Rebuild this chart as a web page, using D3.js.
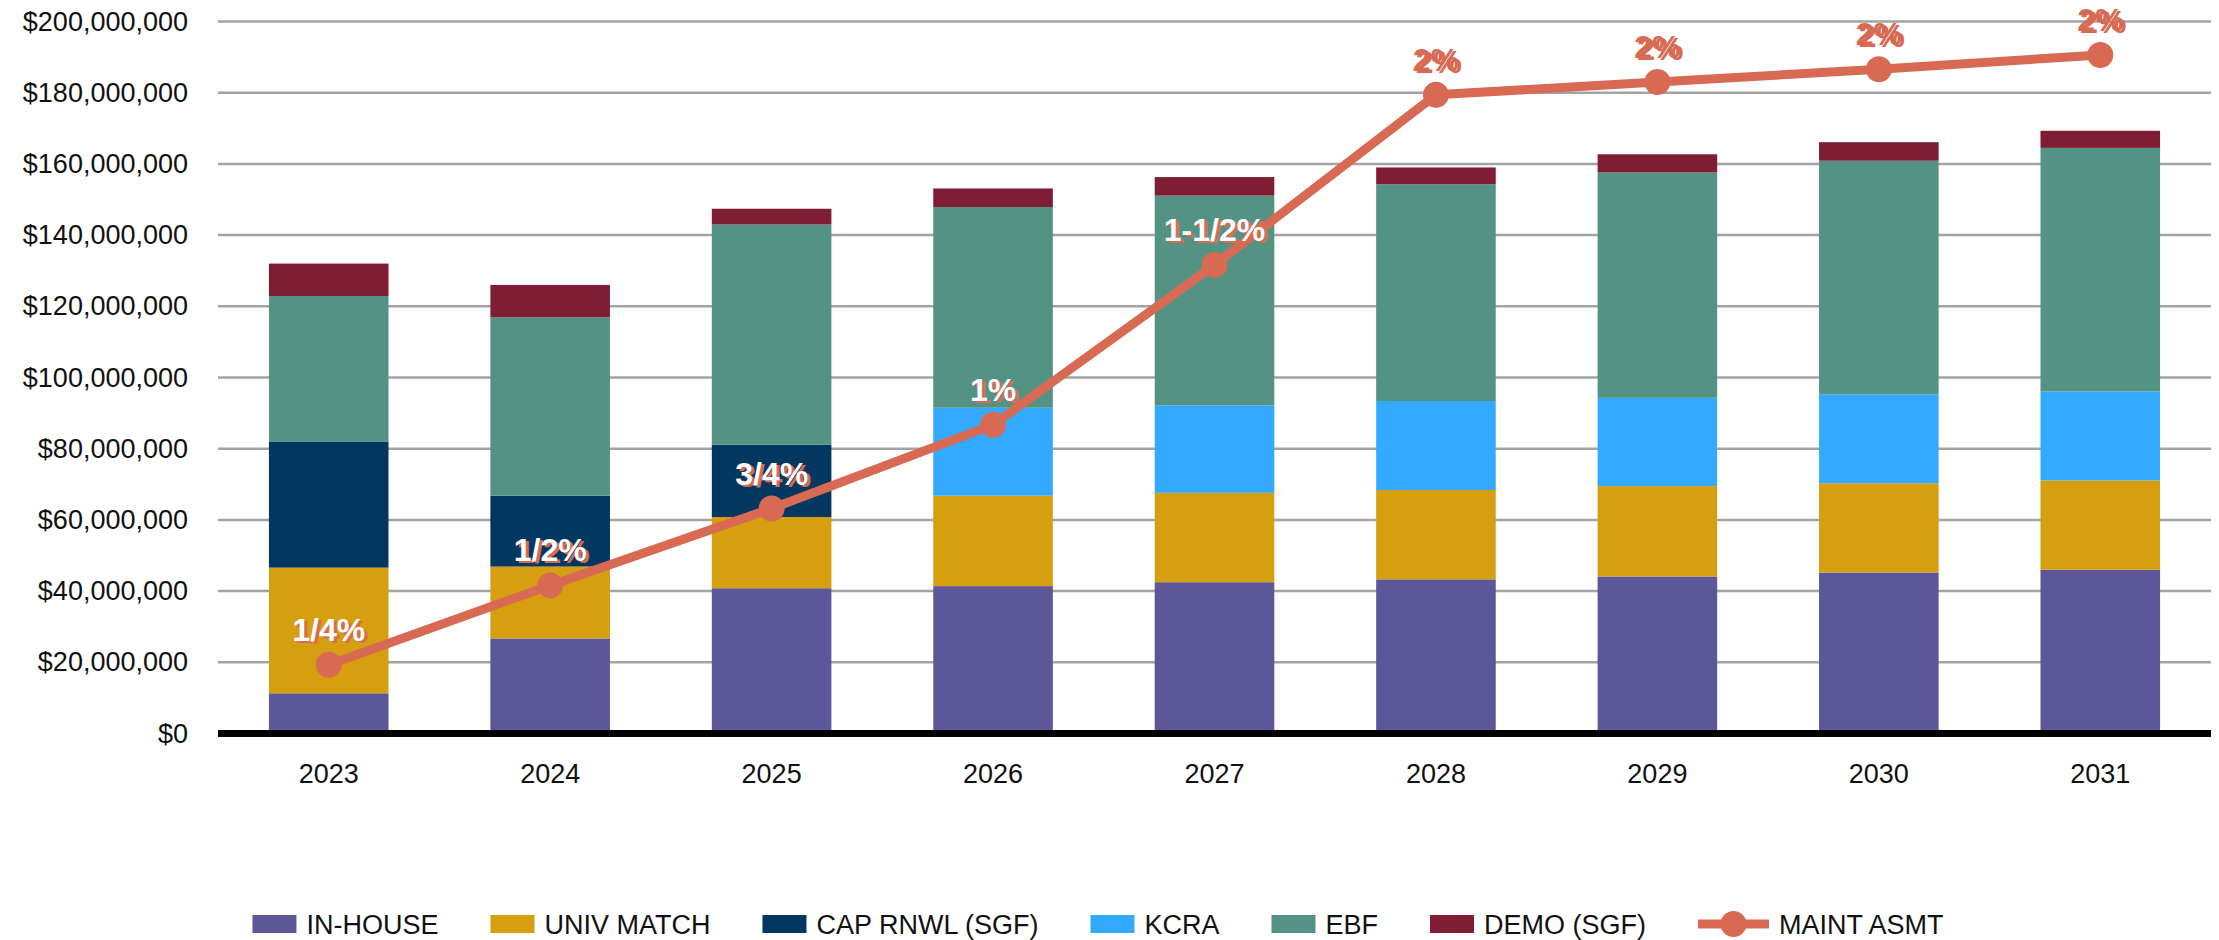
<!DOCTYPE html>
<html>
<head>
<meta charset="utf-8">
<script src="https://cdn.jsdelivr.net/npm/d3@7"></script>
<style>
  body { margin: 0; background: #fff; }
  svg { display: block; font-family: "Liberation Sans", Arial, sans-serif; }
</style>
</head>
<body>
<svg id="chart" width="2219" height="940" viewBox="0 0 2219 940"></svg>
<script>
// chart values (dollars in millions)
const years = ["2023", "2024", "2025", "2026", "2027", "2028", "2029", "2030", "2031"];
const seriesNames = ["IN-HOUSE", "UNIV MATCH", "CAP RNWL (SGF)", "KCRA", "EBF", "DEMO (SGF)"];
const inHouse = [11.3, 26.7, 40.8, 41.4, 42.5, 43.3, 44.1, 45.2, 46.0];
const univMatch = [35.3, 20.2, 20.0, 25.4, 25.1, 25.1, 25.4, 25.1, 25.1];
const capRenewal = [35.3, 19.9, 20.3, 0, 0, 0, 0, 0, 0];
const kcra = [0, 0, 0, 24.7, 24.6, 25.0, 24.8, 25.0, 25.0];
const ebf = [41.0, 50.1, 61.9, 56.4, 58.9, 60.9, 63.3, 65.6, 68.4];
const demo = [9.1, 9.1, 4.4, 5.2, 5.2, 4.7, 5.1, 5.2, 4.8];
const maintAsmt = [19.3, 41.6, 63.2, 86.7, 131.6, 179.4, 183.0, 186.6, 190.6];
const rateLabels = ["1/4%", "1/2%", "3/4%", "1%", "1-1/2%", "2%", "2%", "2%", "2%"];
const yTicks = [0, 20, 40, 60, 80, 100, 120, 140, 160, 180, 200];

const colors = ["#5b5799", "#d59f10", "#03375f", "#33aaff", "#549384", "#7f1d35"];
const lineColor = "#d86a54";

const svg = d3.select("#chart");
const plotLeft = 218, plotRight = 2211, plotTop = 21.5, plotBottom = 733.5;

const rows = years.map((year, i) => ({
  year: year,
  "IN-HOUSE": inHouse[i],
  "UNIV MATCH": univMatch[i],
  "CAP RNWL (SGF)": capRenewal[i],
  "KCRA": kcra[i],
  "EBF": ebf[i],
  "DEMO (SGF)": demo[i],
  asmt: maintAsmt[i],
  label: rateLabels[i]
}));

const x = d3.scaleBand().domain(years).range([plotLeft, plotRight]).paddingInner(0.46).paddingOuter(0.23);
const y = d3.scaleLinear().domain([0, 200]).range([plotBottom, plotTop]);
const color = d3.scaleOrdinal().domain(seriesNames).range(colors);

// gridlines
svg.append("g")
  .selectAll("line")
  .data(yTicks.filter(t => t > 0))
  .enter()
  .append("line")
  .attr("x1", plotLeft)
  .attr("x2", plotRight)
  .attr("y1", d => y(d))
  .attr("y2", d => y(d))
  .attr("stroke", "#a3a3a6")
  .attr("stroke-width", 2.5);

// y axis labels
const yAxis = svg.append("g")
  .attr("transform", `translate(${plotLeft},0)`)
  .call(d3.axisLeft(y).tickValues(yTicks).tickSize(0).tickPadding(30)
    .tickFormat(d => "$" + d3.format(",")(d * 1e6)));
yAxis.select(".domain").remove();
yAxis.selectAll("text").attr("font-size", 27).attr("fill", "#111")
  .attr("font-family", "Liberation Sans, Arial, sans-serif");

// stacked bars
const stacked = d3.stack().keys(seriesNames)(rows);
svg.append("g")
  .selectAll("g")
  .data(stacked)
  .enter()
  .append("g")
  .attr("fill", d => color(d.key))
  .selectAll("rect")
  .data(d => d)
  .enter()
  .append("rect")
  .attr("x", d => x(d.data.year))
  .attr("width", x.bandwidth())
  .attr("y", d => y(d[1]))
  .attr("height", d => y(d[0]) - y(d[1]));

// x axis
const xAxis = svg.append("g")
  .attr("transform", `translate(0,${plotBottom})`)
  .call(d3.axisBottom(x).tickSize(0).tickPadding(30));
xAxis.select(".domain").attr("stroke", "#000").attr("stroke-width", 7)
  .attr("d", `M${plotLeft},0H${plotRight}`);
xAxis.selectAll("text").attr("font-size", 27).attr("fill", "#111")
  .attr("font-family", "Liberation Sans, Arial, sans-serif");

// maintenance assessment line
const cx = d => x(d.year) + x.bandwidth() / 2;
svg.append("path")
  .datum(rows)
  .attr("fill", "none")
  .attr("stroke", lineColor)
  .attr("stroke-width", 9)
  .attr("stroke-linejoin", "round")
  .attr("d", d3.line().x(cx).y(d => y(d.asmt)));

svg.append("g")
  .selectAll("circle")
  .data(rows)
  .enter()
  .append("circle")
  .attr("cx", cx)
  .attr("cy", d => y(d.asmt))
  .attr("r", 13)
  .attr("fill", lineColor);

// rate labels: white text with an orange shadow
const labelGroup = svg.append("g")
  .attr("font-size", 32)
  .attr("font-weight", "bold")
  .attr("text-anchor", "middle");

const stackTop = d => seriesNames.reduce((s, k) => s + d[k], 0);
const labelY = d => y(d.asmt) - 24;

labelGroup.selectAll(".shadow")
  .data(rows)
  .enter()
  .append("text")
  .attr("class", "shadow")
  .attr("x", d => cx(d) + 3)
  .attr("y", d => labelY(d) + 2)
  .attr("fill", lineColor)
  .text(d => d.label);

labelGroup.selectAll(".front")
  .data(rows)
  .enter()
  .append("text")
  .attr("class", "front")
  .attr("x", cx)
  .attr("y", labelY)
  .attr("fill", d => (labelY(d) - 12 < y(stackTop(d)) ? lineColor : "#fff"))
  .text(d => d.label);

// legend
const legend = svg.append("g").attr("font-size", 27).attr("fill", "#111");
const legendItems = seriesNames.concat(["MAINT ASMT"]);
const legendY = 924;
let cursor = 0;
legendItems.forEach(name => {
  const g = legend.append("g");
  const isLine = name === "MAINT ASMT";
  const swatchW = isLine ? 71 : 44;
  if (isLine) {
    g.append("line").attr("x1", 0).attr("x2", swatchW)
      .attr("y1", legendY).attr("y2", legendY)
      .attr("stroke", lineColor).attr("stroke-width", 9);
    g.append("circle").attr("cx", swatchW / 2).attr("cy", legendY)
      .attr("r", 13).attr("fill", lineColor);
  } else {
    g.append("rect").attr("x", 0).attr("y", legendY - 9)
      .attr("width", swatchW).attr("height", 18).attr("fill", color(name));
  }
  const t = g.append("text").attr("x", swatchW + 10).attr("y", legendY + 10).text(name);
  const w = swatchW + 10 + t.node().getComputedTextLength();
  g.attr("transform", `translate(${cursor},0)`);
  cursor += w + 52;
});
const legendWidth = cursor - 52;
legend.attr("transform", `translate(${1098 - legendWidth / 2},0)`);
</script>
</body>
</html>
